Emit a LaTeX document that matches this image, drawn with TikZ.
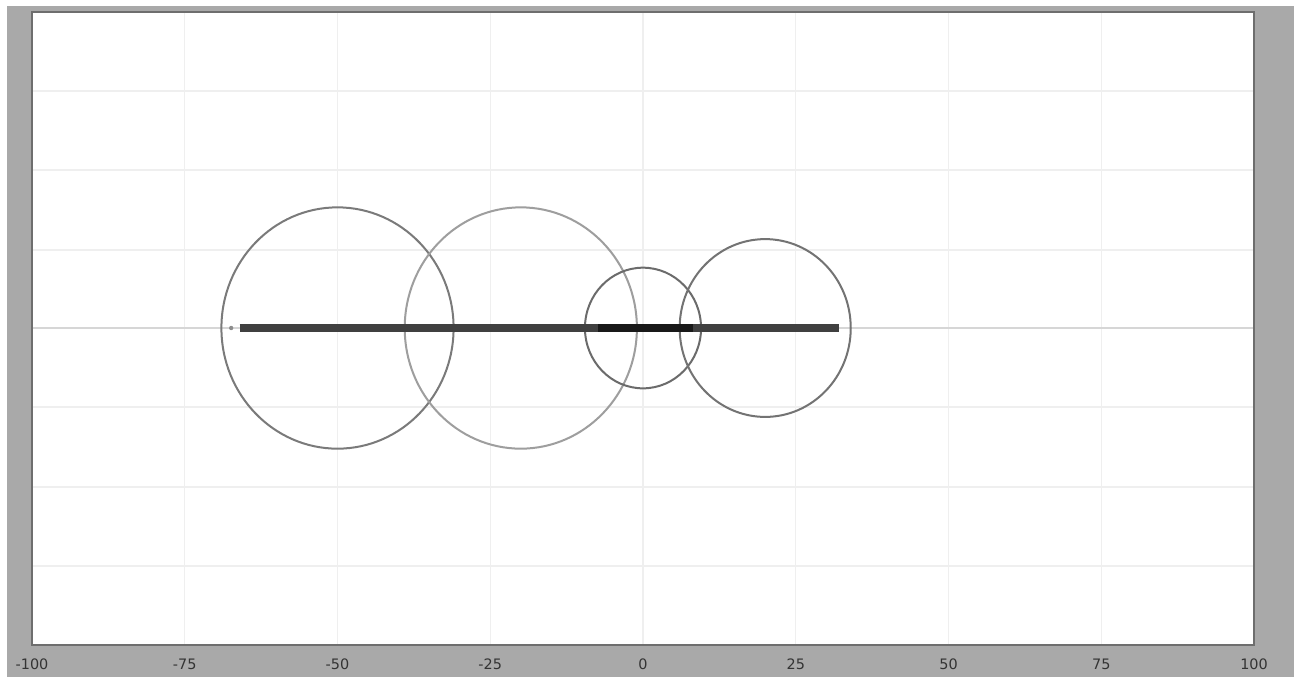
\documentclass[tikz,border=0pt]{standalone}
\usepackage{fontspec}
\setmainfont{DejaVu Sans}
\usetikzlibrary{positioning}
\definecolor{frame}{HTML}{A9A9A9}
\definecolor{gridc}{HTML}{EFEFEF}
\definecolor{edge}{HTML}{6E6E6E}

\begin{document}
\begin{tikzpicture}[
  x=0.5pt, y=-0.5pt,
  gridln/.style={draw=gridc, line width=0.6pt},
  ring/.style={draw=black!52, line width=1pt},
  ticklbl/.style={font=\fontsize{7.2}{8}\selectfont, text=black!80, inner sep=0pt},
  beam/.style={line width=3.6pt, draw=black!75}
]
\useasboundingbox (0,0) rectangle (1301,677);
\fill[white] (0,0) rectangle (1301,677);

% Window frame and plot area
\fill[frame] (7,6) rectangle (1294,677);
\fill[white] (32,12) rectangle (1254,645);

% Grid
\foreach \y in {91,170,250,407,487,566}
  \draw[gridln] (32,\y) -- (1254,\y);
\foreach \v in {-75,-50,...,75}
  \draw[gridln] ({643+6.11*\v},12) -- ({643+6.11*\v},645);
\draw[black!16, line width=0.6pt] (32,328) -- (1254,328);
\draw[edge, line width=0.9pt] (32,12) rectangle (1254,645);

% Axis labels
\foreach \v in {-100,-75,...,100}
  \node[ticklbl] (t\v) at ({643+6.11*\v},664) {\v};

% Data
\begin{scope}[shift={(643,328)}, x=3.055pt, y=3.175pt]
  \coordinate (c1) at (-50,0);
  \coordinate (c2) at (-20,0);
  \coordinate (c3) at (0,0);
  \coordinate (c4) at (20,0);
  \draw[ring] (c1) circle [radius=19];
  \draw[ring, draw=black!38] (c2) circle [radius=19];
  \draw[ring, draw=black!58] (c3) circle [radius=9.5];
  \draw[ring, draw=black!55] (c4) circle [radius=14];

  \coordinate (p0) at (-67.4,0);
  \coordinate (b0) at (-66,0);
  \coordinate (b1) at (32,0);
  \coordinate (m0) at (-7.4,0);
  \coordinate (m1) at (8.2,0);
  \fill[black!45] (p0) circle [radius=0.35];
  \draw[beam] (b0) -- (b1);
  \draw[beam, draw=black!90] (m0) -- (m1);
\end{scope}
\end{tikzpicture}
\end{document}
